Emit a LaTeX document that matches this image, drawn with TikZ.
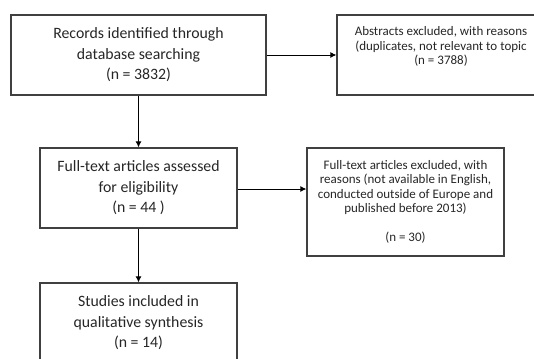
\documentclass[tikz,border=0pt]{standalone}
\usepackage{fontspec}
\setmainfont{Carlito}
\usetikzlibrary{arrows.meta}
\begin{document}
\begin{tikzpicture}[x=1pt,y=-1pt,
    arrow/.style = {line width=0.9pt,-{Latex[length=6pt,width=6pt]}},
    bigbox/.style = {draw=black!75,line width=1.3pt,align=center,
        font=\fontsize{15.8}{20.5}\selectfont,text=black!85},
    smallbox/.style = {draw=black!75,line width=1.3pt,align=center,
        font=\fontsize{13}{14.5}\selectfont,text=black!85}]
                \useasboundingbox (0,0) rectangle (534,358);
                \clip (0,0) rectangle (534,358);

                \node[bigbox,minimum width=255pt,minimum height=80pt] (records)
                    at (138.5,55) {Records identified through\\database searching\\(n = 3832)};
                \node[smallbox,minimum width=208pt,minimum height=80pt] (abstracts)
                    at (441,55) {Abstracts excluded, with reasons\\(duplicates, not relevant to topic\\(n = 3788)\\ \strut};
                \node[bigbox,minimum width=197pt,minimum height=80pt] (fulltext)
                    at (138.5,188) {Full-text articles assessed\\for eligibility\\(n = 44 )};
                \node[smallbox,minimum width=197pt,minimum height=108pt] (excluded)
                    at (405.5,202) {Full-text articles excluded, with\\reasons (not available in English,\\conducted outside of Europe and\\published before 2013)\\ \strut\\(n = 30)};
                \node[bigbox,minimum width=197pt,minimum height=80pt] (included)
                    at (138.5,323) {Studies included in\\qualitative synthesis\\(n = 14)};

                \draw[arrow] (records) -- (abstracts);
                \draw[arrow] (records) -- (fulltext);
                \draw[arrow] ([yshift=-1pt]fulltext.east) -- ([yshift=-1pt]fulltext.east -| excluded.west);
                \draw[arrow] (fulltext) -- (included);
            \end{tikzpicture}
\end{document}
